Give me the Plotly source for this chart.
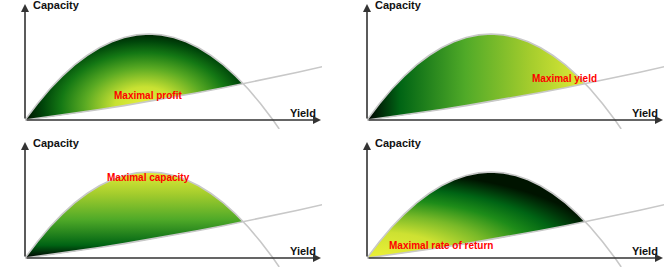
import plotly.graph_objects as go

# ---- data (same curves in every panel) ----
yield_upper = [0, 0.5, 1, 1.5, 2, 2.5, 3, 3.5, 4, 4.5, 5, 5.5, 6, 6.5, 7, 7.5, 8, 8.5, 9, 9.5, 10, 10.25]
capacity_upper = [0, 4.75, 9, 12.75, 16, 18.75, 21, 22.75, 24, 24.75, 25, 24.75, 24, 22.75, 21,
                  18.75, 16, 12.75, 9, 4.75, 0, -2.6]
yield_lower = [0, 1, 2, 3, 4, 5, 6, 7, 8, 9, 10, 11, 12]
capacity_lower = [0, 0.95, 1.97, 3.05, 4.19, 5.39, 6.65, 7.97, 9.36, 10.81, 12.32, 13.89, 15.52]
cross_yield = 8.8
cross_capacity = 10.55

labels = ["Maximal profit", "Maximal yield", "Maximal capacity", "Maximal rate of return"]
label_x = [4.96, 7.98, 4.96, 2.98]
label_y = [6.98, 12.21, 23.4, 3.49]
axis_x_title = "Yield"
axis_y_title = "Capacity"

# ---- layout geometry (pixels) ----
W, H = 664, 267
PX_X = 24.8   # px per yield unit
PX_Y = 3.44   # px per capacity unit
origins = [(25, 120), (367, 120), (25, 258), (367, 258)]
plot_w = 297
above = 117
below = 9

dark_scale = [[0, '#000000'], [0.15, '#006414'], [0.45, '#50aa28'], [0.75, '#a5cd2d'], [1, '#e1eb37']]
radial_scale_1 = [[0, '#e8f03c'], [0.25, '#c8e132'], [0.5, '#5aaa23'], [0.7, '#147814'],
                  [0.85, '#00460a'], [1, '#001400']]
radial_scale_4 = [[0, '#ecf037'], [0.3, '#cde132'], [0.5, '#78b928'], [0.68, '#1e8c19'],
                  [0.82, '#006414'], [0.93, '#003208'], [1, '#001400']]

# gradient spec for each panel (radial: centre and radii in data units)
grads = [
    dict(type='radial', center=(4.84, 4.07), radii=(4.84, 22.1), scale=radial_scale_1),
    dict(type='horizontal'),
    dict(type='vertical'),
    dict(type='radial', center=(0.52, 0.0), radii=(9.27, 25.0), scale=radial_scale_4),
]

fig = go.Figure()
layout = dict(width=W, height=H, margin=dict(l=0, r=0, t=0, b=0),
              paper_bgcolor='white', plot_bgcolor='rgba(0,0,0,0)', showlegend=False)

# region polygon between curves
reg_x = [x for x in yield_upper if x < cross_yield] + [cross_yield] + \
        [x for x in yield_lower if x < cross_yield][::-1]
reg_y = [y for x, y in zip(yield_upper, capacity_upper) if x < cross_yield] + [cross_capacity] + \
        [y for x, y in zip(yield_lower, capacity_lower) if x < cross_yield][::-1]

annotations = []
font_fam = 'Liberation Sans, Arial, sans-serif'
for i, (ox, oy) in enumerate(origins):
    n = '' if i == 0 else str(i + 1)
    xa, ya = 'x' + n, 'y' + n
    layout['xaxis' + n] = dict(domain=[ox / W, (ox + plot_w) / W], range=[0, plot_w / PX_X],
                               visible=False, fixedrange=True, anchor=ya)
    layout['yaxis' + n] = dict(domain=[(H - (oy + below)) / H, (H - (oy - above)) / H],
                               range=[-below / PX_Y, above / PX_Y], visible=False, fixedrange=True, anchor=xa)
    g = grads[i]
    px_, py_ = list(reg_x), list(reg_y)
    if g['type'] == 'radial':
        # zero-area spurs that set the fill's bounding box, which centres the radial gradient
        cx, cy = g['center']
        rx, ry = g['radii']
        px_ += [cx - rx, reg_x[-1], cx + rx, reg_x[-1]]
        py_ += [cy - ry, reg_y[-1], cy + ry, reg_y[-1]]
        fg = dict(type='radial', colorscale=g['scale'])
    elif g['type'] == 'horizontal':
        fg = dict(type='horizontal', colorscale=dark_scale, start=0, stop=cross_yield)
    else:
        fg = dict(type='vertical', colorscale=dark_scale, start=0, stop=max(capacity_upper))
    fig.add_trace(go.Scatter(x=px_, y=py_, mode='none', fill='toself', fillgradient=fg,
                             xaxis=xa, yaxis=ya, hoverinfo='skip'))
    fig.add_trace(go.Scatter(x=yield_lower, y=capacity_lower, mode='lines',
                             line=dict(color='#c8c8c8', width=1.6), xaxis=xa, yaxis=ya, hoverinfo='skip'))
    fig.add_trace(go.Scatter(x=yield_upper, y=capacity_upper, mode='lines',
                             line=dict(color='#c8c8c8', width=1.6), xaxis=xa, yaxis=ya, hoverinfo='skip'))
    # axes arrows
    xtip = (plot_w - 1) / PX_X
    ytip = (above - 1) / PX_Y
    for (tx, ty) in [(xtip, 0), (0, ytip)]:
        annotations.append(dict(x=tx, y=ty, ax=0, ay=0, xref=xa, yref=ya, axref=xa, ayref=ya,
                                text='', showarrow=True, arrowhead=2, arrowsize=1, arrowwidth=1.6,
                                arrowcolor='#333333', standoff=0, startstandoff=0))
    annotations.append(dict(x=0.24, y=115.3 / PX_Y, xref=xa, yref=ya,
                            text='<b>%s</b>' % axis_y_title,
                            showarrow=False, xanchor='left', yanchor='middle',
                            font=dict(family=font_fam, size=11, color='#111111')))
    annotations.append(dict(x=(318 - 25) / PX_X, y=7 / PX_Y, xref=xa, yref=ya,
                            text='<b>%s</b>' % axis_x_title,
                            showarrow=False, xanchor='right', yanchor='middle',
                            font=dict(family=font_fam, size=11, color='#111111')))
    annotations.append(dict(x=label_x[i], y=label_y[i], xref=xa, yref=ya, text='<b>%s</b>' % labels[i],
                            showarrow=False, xanchor='center', yanchor='middle',
                            font=dict(family=font_fam, size=10, color='#ff0000')))

layout['annotations'] = annotations
fig.update_layout(**layout)
fig.write_html("out.html", config={'displayModeBar': False},
               post_script="document.body.style.margin='0';document.body.style.overflow='hidden';")
